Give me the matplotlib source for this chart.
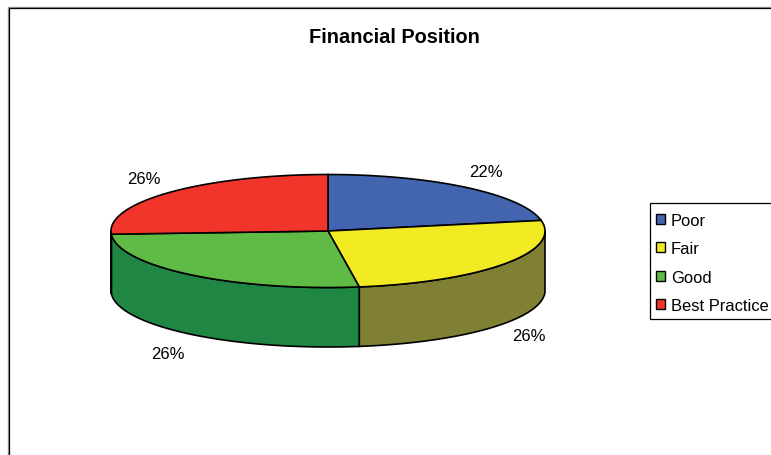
# ==========================================================
# FINANCIAL POSITION : 3D STYLE PIE
# ==========================================================

import numpy as np
import matplotlib
matplotlib.use("Agg")
import matplotlib.pyplot as plt
from matplotlib.patches import Patch, Polygon, Rectangle

plt.rcParams["font.family"] = ["Liberation Sans", "DejaVu Sans"]

# ==========================================================
# DATA
# ==========================================================

categories = ["Poor", "Fair", "Good", "Best Practice"]
values = [22.0, 25.7, 26.4, 25.9]
labels = ["22%", "26%", "26%", "26%"]

top_colors = ["#4364AE", "#F2EA23", "#60BA46", "#F1352A"]
side_colors = ["#2F4679", "#808035", "#1F8643", "#A82520"]

# ==========================================================
# LAYOUT (PIXELS)
# ==========================================================

cx, cy = 328, 232
rx, ry = 217, 56.5
depth = 59.5

label_pos = [(486, 173), (529, 337), (168, 355), (144, 180)]


def rim(start, end, drop=0):
    t = np.radians(np.linspace(start, end, 200))
    return np.column_stack((cx + rx * np.sin(t), cy - ry * np.cos(t) + drop))


fig = plt.figure(figsize=(7.71, 4.56), dpi=100)
ax = fig.add_axes([0, 0, 1, 1])
ax.set_xlim(0, 771)
ax.set_ylim(456, 0)
ax.axis("off")

# ==========================================================
# CHART FRAME
# ==========================================================

ax.plot([7.5, 7.5, 771], [456, 8, 8], color="#999999", lw=1.0, zorder=1)
ax.plot([8.5, 8.5, 771], [456, 9, 9], color="black", lw=0.9, zorder=1)

# ==========================================================
# PIE
# ==========================================================

angles = np.cumsum([0] + values) / sum(values) * 360

# front wall, only the part between 90 and 270 degrees can be seen
for i in range(len(values)):
    a = max(angles[i], 90)
    b = min(angles[i + 1], 270)
    if a < b:
        wall = np.vstack((rim(a, b), rim(a, b, depth)[::-1]))
        ax.add_patch(Polygon(wall, closed=True, facecolor=side_colors[i],
                             edgecolor="black", lw=1.2, zorder=2))

# top face
for i in range(len(values)):
    face = np.vstack(([[cx, cy]], rim(angles[i], angles[i + 1])))
    ax.add_patch(Polygon(face, closed=True, facecolor=top_colors[i],
                         edgecolor="black", lw=1.2, zorder=3))

for i in range(len(labels)):
    ax.text(label_pos[i][0], label_pos[i][1], labels[i], fontsize=12,
            ha="center", va="center", color="black", zorder=4)

# ==========================================================
# TITLE
# ==========================================================

ax.text(394.5, 37.5, "Financial Position", fontsize=14.4, fontweight="bold",
        ha="center", va="center", color="black")

# ==========================================================
# LEGEND
# ==========================================================

ax.add_patch(Rectangle((650, 204), 125, 115.5, facecolor="white",
                       edgecolor="black", lw=0.9, zorder=4))

handles = [Patch(facecolor=c, edgecolor="black", lw=1.0) for c in top_colors]

legend = ax.legend(
    handles,
    categories,
    loc="upper left",
    bbox_to_anchor=(647 / 771, 1 - 205 / 456),
    fontsize=11.9,
    frameon=False,
    handlelength=0.55,
    handleheight=0.55,
    handletextpad=0.35,
    labelspacing=0.8,
    borderpad=0.55,
    borderaxespad=0,
)
legend.set_zorder(5)

fig.savefig("out.png", dpi=100)
